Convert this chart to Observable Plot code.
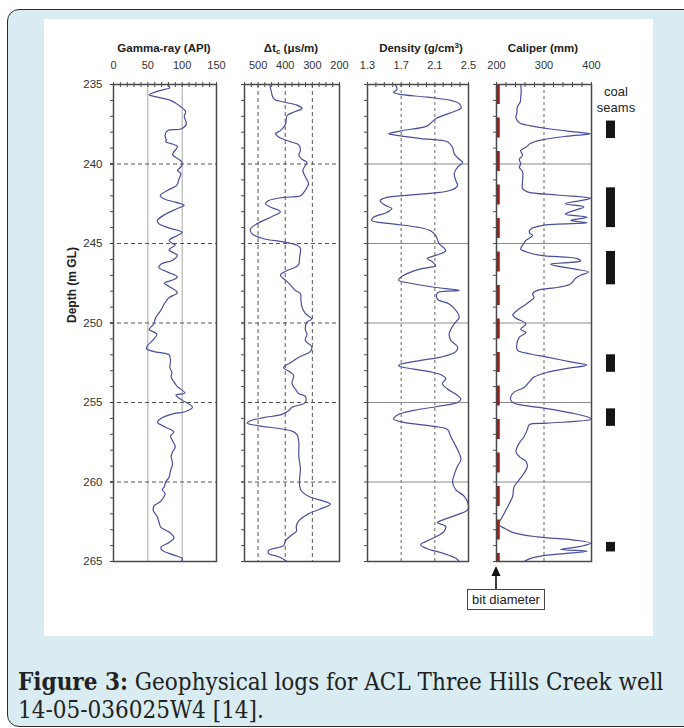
<!DOCTYPE html>
<html><head><meta charset="utf-8">
<script src="https://cdn.jsdelivr.net/npm/d3@7"></script>
<script src="https://cdn.jsdelivr.net/npm/@observablehq/plot@0.6"></script>
<style>
body{margin:0;background:#fff;}
#page{position:relative;width:684px;height:728px;overflow:hidden;background:#fff;font-family:"Liberation Sans",Arial,sans-serif;}
#box{position:absolute;left:7px;top:9px;width:720px;height:716px;border:1.5px solid #2b2b2b;border-radius:12px;background:#d8ecf2;}
#white{position:absolute;left:44px;top:19px;width:609px;height:617px;background:#fff;}
.title{position:absolute;top:41px;font-weight:bold;font-size:11.5px;line-height:14px;color:#222;transform:translateX(-50%);white-space:nowrap;}
.title sub{font-size:8px;vertical-align:-2px;line-height:0;}
.title sup{font-size:8px;vertical-align:4px;line-height:0;}
.coal{position:absolute;left:616px;transform:translateX(-50%);font-size:13px;line-height:16px;color:#222;text-align:center;top:84px;}
#bit{position:absolute;left:467px;top:589px;width:76px;height:19px;border:1px solid #444;font-size:13px;line-height:19px;text-align:center;color:#222;background:#fff;}
#caption{position:absolute;left:18px;top:668px;font-family:"DejaVu Serif Condensed","DejaVu Serif",serif;font-stretch:condensed;font-size:24px;line-height:28px;color:#222;white-space:nowrap;}
svg.plot-abs{position:absolute;max-width:none;}
</style></head>
<body>
<div id="page">
  <div id="box"></div>
  <div id="white"></div>
  <div class="title" style="left:164px">Gamma-ray (API)</div>
  <div class="title" style="left:291px">Δt<sub>c</sub> (μs/m)</div>
  <div class="title" style="left:421px">Density (g/cm<sup>3</sup>)</div>
  <div class="title" style="left:543px">Caliper (mm)</div>
  <div class="coal">coal<br>seams</div>
  <div id="bit">bit diameter</div>
  <svg style="position:absolute;left:486px;top:560px" width="20" height="32">
    <line x1="10" y1="14" x2="10" y2="29" stroke="#111" stroke-width="1.6"/>
    <polygon points="5.5,16 14.5,16 10,6" fill="#111"/>
  </svg>
  <div id="caption"><b>Figure 3:</b> Geophysical logs for ACL Three Hills Creek well<br>14-05-036025W4 [14].</div>
</div>
<script>
// ---- data ----
const gammaDepth = [235.0,235.2,235.4,235.65,235.75,236.0,236.4,236.7,237.0,237.5,237.8,237.9,238.2,238.5,238.6,238.9,239.4,239.7,239.9,240.2,240.4,240.6,241.0,241.35,241.65,242.0,242.2,242.4,242.6,242.8,243.2,243.55,243.75,244.0,244.3,244.5,244.8,245.0,245.1,245.4,245.75,246.05,246.3,246.5,246.8,247.1,247.3,247.5,247.7,248.1,248.4,248.8,249.2,249.7,250.05,250.4,250.7,251.1,251.4,251.6,251.8,252.0,252.4,252.8,253.1,253.4,253.7,254.0,254.4,254.55,254.85,255.3,255.6,255.7,256.0,256.25,256.55,256.85,257.1,257.4,257.8,258.1,258.4,258.85,259.3,259.7,260.0,260.3,260.5,260.7,261.2,261.5,261.8,262.2,262.5,262.85,263.15,263.5,263.8,264.1,264.3,264.6,264.8,265.0];
const gammaAPI = [78,82,66,52,59,83,98,105,103,106,98,79,75,77,76,93,86,95,100,98,93,98,95,92,79,68,74,90,103,93,74,64,66,79,100,93,81,86,90,81,93,86,69,66,79,93,86,74,81,93,81,74,69,61,59,52,63,57,50,48,59,81,83,82,85,84,88,93,104,91,100,115,103,88,69,64,76,88,83,86,90,86,84,86,83,81,76,74,71,75,69,59,58,64,66,69,81,88,81,69,71,88,100,100];

const sonicDepth = [235.0,235.4,235.9,236.1,236.3,236.5,236.7,236.95,237.5,237.9,238.1,238.3,238.6,238.8,239.15,239.45,239.7,239.9,240.1,240.4,240.8,241.25,241.65,242.0,242.1,242.3,242.5,242.7,243.0,243.3,243.75,244.1,244.4,244.7,244.9,245.1,245.3,245.85,246.3,246.5,246.7,247.0,247.3,247.6,247.95,248.15,248.6,249.0,249.4,249.75,249.95,250.4,250.7,251.1,251.5,251.8,252.15,252.5,252.8,253.1,253.3,253.8,254.15,254.45,254.6,255.0,255.3,255.5,255.75,255.95,256.15,256.3,256.45,256.65,256.8,257.0,257.5,258.35,259.2,259.8,260.45,260.9,261.2,261.4,261.7,262.0,262.45,262.75,263.1,263.4,263.7,264.0,264.3,264.5,264.7,265.0];
const sonicDT = [457,452,442,406,357,338,363,393,399,418,436,424,381,350,344,350,338,320,326,335,326,314,326,344,406,461,473,455,418,448,503,528,522,479,406,357,344,347,350,363,393,418,399,381,363,344,342,338,326,302,320,326,320,326,302,308,350,381,406,381,369,375,363,350,326,326,375,387,412,479,528,540,503,418,375,357,350,350,344,347,344,314,259,234,271,314,350,359,359,381,399,406,461,461,424,393];

const densityDepth = [235.0,235.3,235.5,235.6,235.8,236.0,236.2,236.5,236.7,237.15,237.6,237.9,238.1,238.2,238.4,238.6,238.95,239.35,239.7,239.9,240.2,240.6,241.05,241.35,241.65,241.9,242.1,242.3,242.6,242.8,243.05,243.35,243.55,243.75,243.97,244.2,244.5,245.0,245.45,245.75,245.95,246.15,246.4,246.6,247.0,247.3,247.5,247.75,247.95,248.1,248.5,248.8,249.2,249.65,250.05,250.4,250.7,251.1,251.5,251.8,252.15,252.35,252.6,252.7,252.9,253.1,253.3,253.5,253.8,254.15,254.55,254.8,255.0,255.25,255.5,255.8,256.05,256.25,256.5,256.7,257.15,257.55,258.2,258.6,259.0,259.55,260.0,260.5,260.9,261.45,261.75,262.05,262.4,262.55,262.8,263.1,263.4,263.75,263.95,264.2,264.5,264.8,265.0];
const densityRHOB = [1.63,1.65,1.61,1.67,2.01,2.29,2.39,2.41,2.33,2.11,2.01,1.71,1.55,1.65,1.93,2.25,2.31,2.33,2.39,2.43,2.37,2.33,2.35,2.37,2.29,1.93,1.53,1.45,1.51,1.59,1.53,1.37,1.35,1.57,1.89,2.05,2.11,2.15,2.23,2.11,2.01,2.07,2.11,1.93,1.73,1.67,1.81,2.09,2.39,2.13,2.13,2.27,2.35,2.39,2.33,2.29,2.27,2.29,2.37,2.35,2.17,1.93,1.69,1.67,1.85,2.07,2.19,2.23,2.19,2.25,2.37,2.41,2.37,2.13,1.85,1.65,1.61,1.73,2.09,2.25,2.29,2.33,2.39,2.41,2.37,2.33,2.31,2.35,2.45,2.50,2.49,2.37,2.19,2.13,2.23,2.21,2.13,1.99,1.93,2.01,2.21,2.35,2.39];

const caliperDepth = [235.0,235.4,235.8,236.1,236.4,236.75,237.1,237.4,237.6,237.8,238.0,238.1,238.25,238.5,238.7,238.95,239.15,239.45,239.7,240.0,240.2,240.5,241.05,241.55,241.75,241.95,242.15,242.3,242.5,242.7,242.9,243.15,243.35,243.55,243.7,243.85,244.1,244.3,244.5,244.8,245.1,245.35,245.55,245.75,245.95,246.1,246.3,246.6,246.8,247.0,247.2,247.55,247.75,247.95,248.15,248.4,248.6,248.9,249.2,249.5,249.7,250.05,250.4,250.6,250.9,251.3,251.7,251.95,252.15,252.45,252.65,252.85,253.1,253.4,253.7,254.05,254.35,254.65,254.85,255.05,255.35,255.65,255.9,256.05,256.3,256.4,256.7,257.15,257.55,258.1,258.4,258.7,259.0,259.45,259.85,260.3,260.9,261.35,261.75,262.15,262.5,262.65,262.9,263.2,263.45,263.65,263.85,264.05,264.25,264.35,264.6,264.8,265.0];
const caliperMM = [251,252,251,250,244,243,241,248,272,314,370,398,349,293,272,262,251,255,248,251,248,255,255,255,265,328,398,377,345,384,366,345,391,356,391,300,272,269,276,262,255,251,265,293,370,377,314,363,394,377,366,356,331,286,276,279,272,258,244,234,241,262,251,262,248,243,244,272,307,356,390,349,307,279,269,258,237,230,230,237,300,356,391,400,307,269,265,258,248,241,248,262,265,258,248,237,234,227,220,213,206,203,216,237,286,363,398,377,335,391,307,272,258];

const bitDiameter = [200];
const seamTop = [237.3,241.5,245.5,252.0,255.4,263.8];
const seamBase = [238.4,244.0,247.6,253.1,256.5,264.4];

const depthDomain = [235,265];
const depthLabels = [235,240,245,250,255,260,265];
const depthGrid = [240,245,250,255,260];
const gammaTicks = [0,50,100,150];
const sonicTicks = [500,400,300,200];
const densityTicks = [1.3,1.7,2.1,2.5];
const caliperTicks = [200,300,400];

// ---- layout ----
const page = document.getElementById("page");
const FT = 84, FB = 561, FH = FB - FT;
const curveColor = "#484e9c";
const toRows = (ds, vs) => ds.map((d, i) => ({d, v: vs[i]}));
const minorDepth = d3.range(235, 266, 1);

function panel({x0, x1, domain, labels, minor, marks, ml = 12, mr = 12, mt = 30, mb = 8, leftAxis = []}) {
  const svg = Plot.plot({
    width: x1 - x0 + ml + mr,
    height: FH + mt + mb,
    marginLeft: ml, marginRight: mr, marginTop: mt, marginBottom: mb,
    x: {domain},
    y: {domain: depthDomain, reverse: true},
    style: {background: "transparent", fontFamily: "Liberation Sans, Arial, sans-serif", fontSize: "11px", color: "#333", overflow: "visible"},
    marks: [
      ...marks,
      Plot.frame({stroke: "#4a4a4a", strokeWidth: 1.5}),
      Plot.ruleX(minor, {stroke: "#4a4a4a", strokeWidth: 1, insetTop: -2, insetBottom: FH - 3}),
      Plot.axisX({anchor: "top", ticks: labels, tickSize: 0, tickPadding: 16, label: null, fontSize: 11, fill: "#333"}),
      Plot.axisY({anchor: "left", ticks: minorDepth, tickSize: 3, tickFormat: () => "", label: null, stroke: "#4a4a4a"}),
      ...leftAxis
    ]
  });
  svg.classList.add("plot-abs");
  svg.style.left = (x0 - ml) + "px";
  svg.style.top = (FT - mt) + "px";
  page.appendChild(svg);
}

const hDash = Plot.ruleY(depthGrid, {stroke: "#555", strokeWidth: 1, strokeDasharray: "4,3", insetLeft: -3});
const hSolid = Plot.ruleY(depthGrid, {stroke: "#8c8c8c", strokeWidth: 1});

panel({
  x0: 113, x1: 216, domain: [0, 150], labels: gammaTicks, minor: d3.range(0, 151, 10), ml: 62,
  marks: [
    Plot.ruleX([50, 100], {stroke: "#a8a8a8", strokeWidth: 1}),
    hDash,
    Plot.line(toRows(gammaDepth, gammaAPI), {x: "v", y: "d", stroke: curveColor, strokeWidth: 1.2, curve: "catmull-rom"})
  ],
  leftAxis: [
    Plot.axisY({anchor: "left", ticks: depthLabels, tickSize: 3, tickPadding: 8, label: null, fontSize: 11.5, fill: "#333"}),
    Plot.text(["Depth (m GL)"], {frameAnchor: "left", dx: -41, rotate: -90, fontWeight: "bold", fontSize: 12, fill: "#222"})
  ]
});

panel({
  x0: 244, x1: 339, domain: [550, 200], labels: sonicTicks, minor: d3.range(550, 199, -25),
  marks: [
    Plot.ruleX([500, 400, 300], {stroke: "#555", strokeWidth: 1, strokeDasharray: "4,3"}),
    hDash,
    Plot.line(toRows(sonicDepth, sonicDT), {x: "v", y: "d", stroke: curveColor, strokeWidth: 1.2, curve: "catmull-rom"})
  ]
});

panel({
  x0: 367, x1: 468, domain: [1.3, 2.5], labels: densityTicks, minor: d3.range(13, 26, 1).map(v => v / 10),
  marks: [
    Plot.ruleX([1.7, 2.1], {stroke: "#666", strokeWidth: 1, strokeDasharray: "3,3"}),
    hSolid,
    Plot.line(toRows(densityDepth, densityRHOB), {x: "v", y: "d", stroke: curveColor, strokeWidth: 1.2, curve: "catmull-rom"})
  ]
});

panel({
  x0: 496, x1: 591, domain: [200, 400], labels: caliperTicks, minor: d3.range(200, 401, 20),
  marks: [
    Plot.ruleX([300], {stroke: "#666", strokeWidth: 1, strokeDasharray: "3,3"}),
    hSolid,
    Plot.line(toRows(caliperDepth, caliperMM), {x: "v", y: "d", stroke: curveColor, strokeWidth: 1.2, curve: "catmull-rom"}),
    Plot.ruleX(bitDiameter, {stroke: "#a01a1a", strokeWidth: 3.5, strokeDasharray: "20,13.5", dx: 1.5})
  ]
});

// coal seams column
{
  const seams = seamTop.map((t, i) => ({top: t, base: seamBase[i]}));
  const svg = Plot.plot({
    width: 9, height: FH,
    margin: 0,
    x: {domain: [0, 1], axis: null},
    y: {domain: depthDomain, reverse: true, axis: null},
    style: {background: "transparent", overflow: "visible"},
    marks: [Plot.rect(seams, {x1: 0, x2: 1, y1: "top", y2: "base", fill: "#151515"})]
  });
  svg.classList.add("plot-abs");
  svg.style.left = "606px";
  svg.style.top = FT + "px";
  page.appendChild(svg);
}
</script>
</body></html>
